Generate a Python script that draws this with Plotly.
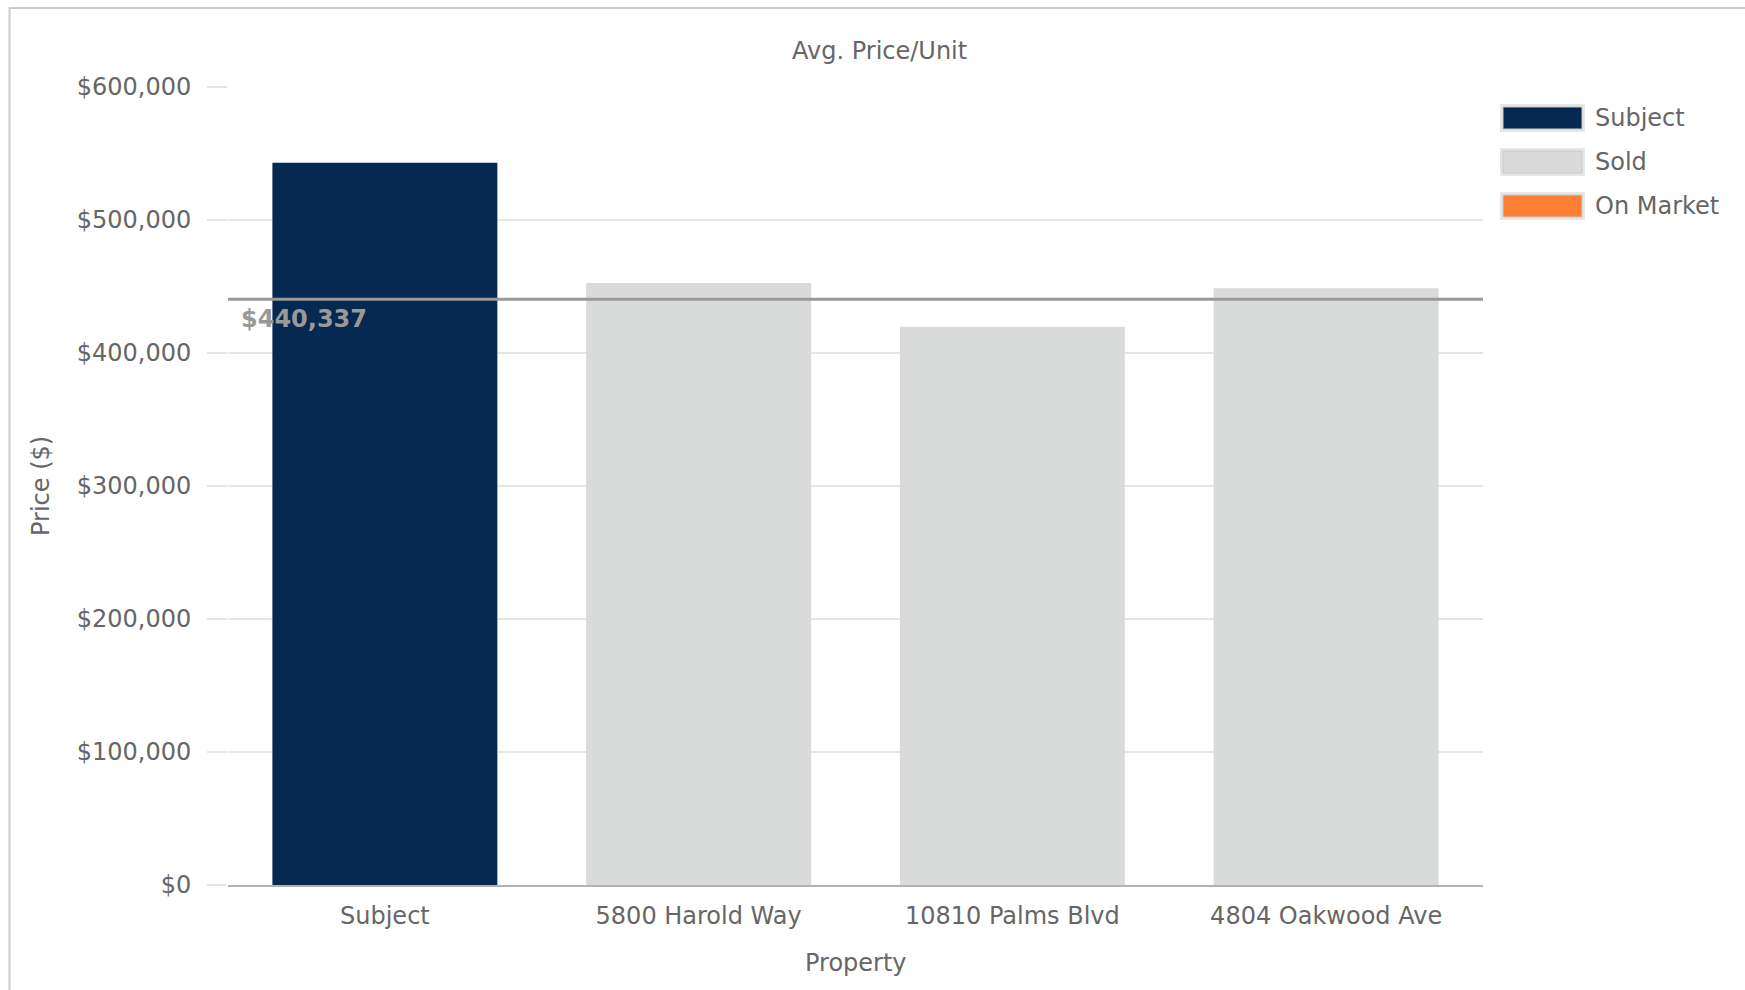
import plotly.graph_objects as go

# Chart data
properties = ["Subject", "5800 Harold Way", "10810 Palms Blvd", "4804 Oakwood Ave"]
price_per_unit = [543000, 452600, 419800, 448611]
status = ["Subject", "Sold", "Sold", "Sold"]
average_price = 440337

y_tick_values = [0, 100000, 200000, 300000, 400000, 500000, 600000]
y_tick_labels = ["$0", "$100,000", "$200,000", "$300,000", "$400,000", "$500,000", "$600,000"]

legend_labels = ["Subject", "Sold", "On Market"]
status_colors = {"Subject": "#052951", "Sold": "#d9dbda", "On Market": "#fe7f33"}

# Figure geometry (pixels)
W, H = 1745, 990
ML, MR, MT, MB = 228, 262, 87, 105
PW, PH = W - ML - MR, H - MT - MB

TEXT = "#666666"
FONT = "DejaVu Sans"
FS = 24


def px_x(px):
    return (px - ML) / PW


def px_y(py):
    return (H - MB - py) / PH


fig = go.Figure(
    go.Bar(
        x=properties,
        y=price_per_unit,
        marker=dict(color=[status_colors[s] for s in status], line=dict(width=0)),
        showlegend=False,
        hovertemplate="%{x}<br>$%{y:,.0f}<extra></extra>",
    )
)

shapes = [
    # outer frame
    dict(type="rect", xref="paper", yref="paper",
         x0=px_x(9.5), x1=px_x(1760), y0=px_y(1005), y1=px_y(8),
         line=dict(color="#cccccc", width=2), fillcolor="rgba(0,0,0,0)", layer="below"),
    # average line
    dict(type="line", xref="paper", yref="y", x0=0, x1=1,
         y0=average_price, y1=average_price,
         line=dict(color="#999999", width=3), layer="above"),
]

annotations = [
    dict(text="Avg. Price/Unit", xref="paper", yref="paper",
         x=px_x(879), y=px_y(51), showarrow=False,
         font=dict(family=FONT, size=FS, color=TEXT), xanchor="center", yanchor="middle"),
    dict(text="Price ($)", xref="paper", yref="paper",
         x=px_x(41), y=px_y(486), showarrow=False, textangle=-90,
         font=dict(family=FONT, size=FS, color=TEXT), xanchor="center", yanchor="middle"),
    dict(text="Property", xref="paper", yref="paper",
         x=0.5, y=px_y(963), showarrow=False,
         font=dict(family=FONT, size=FS, color=TEXT), xanchor="center", yanchor="middle"),
    dict(text="<b>$440,337</b>", xref="paper", yref="y",
         x=px_x(239), y=average_price, yshift=-4, showarrow=False,
         font=dict(family=FONT, size=FS, color="#999999"), xanchor="left", yanchor="top"),
]

# Legend drawn as boxes and labels
legend_rows = [118, 162, 206]
for label, cy in zip(legend_labels, legend_rows):
    shapes.append(dict(type="rect", xref="paper", yref="paper",
                       x0=px_x(1500), x1=px_x(1585), y0=px_y(cy + 14), y1=px_y(cy - 14),
                       fillcolor="#e6e6e6", line=dict(width=0), layer="above"))
    shapes.append(dict(type="rect", xref="paper", yref="paper",
                       x0=px_x(1503), x1=px_x(1582), y0=px_y(cy + 11), y1=px_y(cy - 11),
                       fillcolor=status_colors[label], line=dict(color="#c8c8c8", width=1),
                       layer="above"))
    annotations.append(dict(text=label, xref="paper", yref="paper",
                            x=px_x(1593), y=px_y(cy), showarrow=False,
                            font=dict(family=FONT, size=FS, color=TEXT),
                            xanchor="left", yanchor="middle"))

fig.update_layout(
    width=W, height=H,
    margin=dict(l=ML, r=MR, t=MT, b=MB, pad=0),
    paper_bgcolor="white", plot_bgcolor="white",
    bargap=0.283,
    font=dict(family=FONT, size=FS, color=TEXT),
    shapes=shapes,
    annotations=annotations,
    xaxis=dict(
        showline=True, linecolor="#b3b3b3", linewidth=2,
        ticks="", showgrid=False, zeroline=False,
        tickfont=dict(family=FONT, size=FS, color=TEXT),
        ticklabelstandoff=8,
    ),
    yaxis=dict(
        range=[0, 600000],
        tickvals=y_tick_values, ticktext=y_tick_labels,
        showgrid=True, gridcolor="#e6e6e6", gridwidth=2,
        ticks="outside", ticklen=20, tickwidth=2, tickcolor="#e6e6e6",
        zeroline=False, showline=False,
        tickfont=dict(family=FONT, size=FS, color=TEXT),
        ticklabelstandoff=11,
    ),
)

fig.write_html("out.html")
